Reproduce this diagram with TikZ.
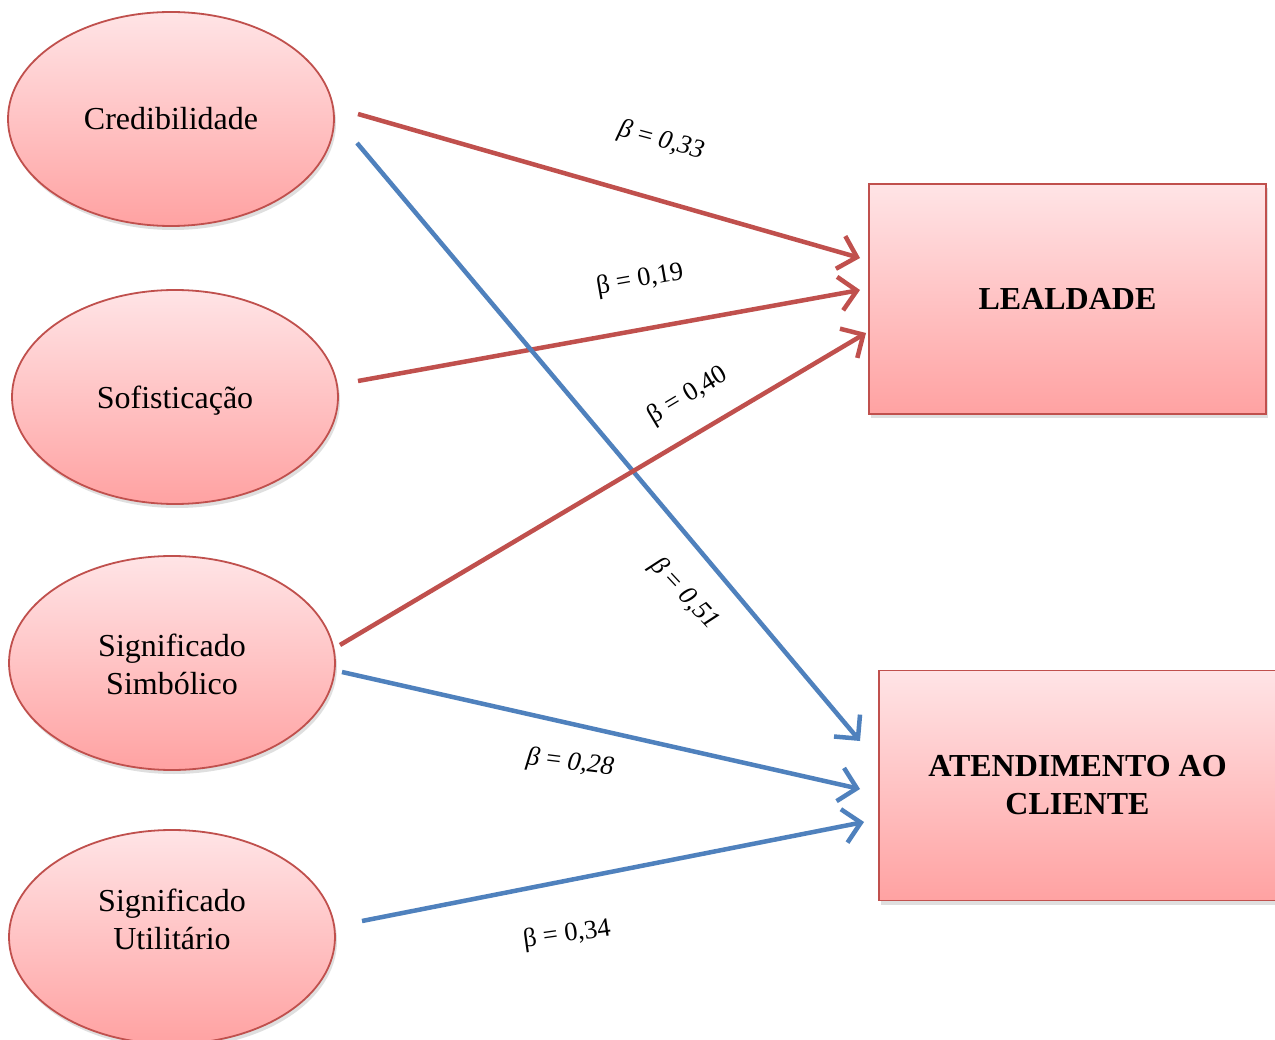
\documentclass[tikz,border=0pt]{standalone}
\usepackage{fontspec}
\setmainfont{Liberation Serif}
\usetikzlibrary{arrows.meta,shapes.geometric,shadows,calc}
\definecolor{edge}{RGB}{192,80,77}
\definecolor{redarrow}{RGB}{192,80,77}
\definecolor{bluearrow}{RGB}{79,129,189}
\definecolor{topfill}{RGB}{255,228,230}
\definecolor{botfill}{RGB}{255,162,162}
\tikzset{
  latent/.style={ellipse, draw=edge, line width=1.8pt, top color=topfill, bottom color=botfill,
    minimum width=326pt, minimum height=214pt, inner sep=0pt,
    drop shadow={opacity=0.25, shadow xshift=2pt, shadow yshift=-4pt},
    font=\fontsize{32}{38}\selectfont, align=center},
  outcome/.style={rectangle, draw=edge, line width=1.8pt, top color=topfill, bottom color=botfill,
    minimum width=397pt, minimum height=230pt, inner sep=0pt,
    drop shadow={opacity=0.25, shadow xshift=2pt, shadow yshift=-4pt},
    font=\bfseries\fontsize{32}{38}\selectfont, align=center},
  redpath/.style={draw=redarrow, line width=4.5pt, -{Straight Barb[length=17pt,width=34pt,line width=4.5pt]}},
  bluepath/.style={draw=bluearrow, line width=4.5pt, -{Straight Barb[length=17pt,width=34pt,line width=4.5pt]}},
  coef/.style={font=\fontsize{26.5}{30}\selectfont, inner sep=1pt},
}
\begin{document}
\begin{tikzpicture}[x=1pt,y=-1pt]
\useasboundingbox (0,0) rectangle (1275,1040);
\clip (0,0) rectangle (1275,1040);
\fill[white] (0,0) rectangle (1275,1040);
% latent nodes
\node[latent] (cred) at (171,119) {};
\node[latent] (sofi) at (175,397) {};
\node[latent] (simb) at (172,663) {};
\node[latent] (util) at (172,937) {};
\node[font=\fontsize{32}{38}\selectfont, anchor=base] (credtext) at (171,130) {Credibilidade};
\node[font=\fontsize{32}{38}\selectfont, anchor=base] (sofitext) at (175,409) {Sofisticação};
\node[font=\fontsize{32}{38}\selectfont, align=center] (simbtext) at (172,664) {Significado\\Simbólico};
\node[font=\fontsize{32}{38}\selectfont, align=center] (utiltext) at (172,919) {Significado\\Utilitário};
% outcomes
\node[outcome] (leal) at (1067.5,299) {LEALDADE};
\node[outcome] (aten) at (1077.5,785.5) {ATENDIMENTO AO\\CLIENTE};
% endpoints
\coordinate (s1) at (358,114);
\coordinate (e1) at (860,258);
\coordinate (s2) at (358,381);
\coordinate (e2) at (860,290);
\coordinate (s3) at (340,645);
\coordinate (e3) at (866,333);
\coordinate (s4) at (357,143);
\coordinate (e4) at (860,741);
\coordinate (s5) at (342,672);
\coordinate (e5) at (860,789);
\coordinate (s6) at (362,921);
\coordinate (e6) at (864,822);
% paths
\draw[redpath] (s1) -- (e1);
\draw[redpath] (s2) -- (e2);
\draw[bluepath] (s4) -- (e4);
\draw[redpath] (s3) -- (e3);
\draw[bluepath] (s5) -- (e5);
\draw[bluepath] (s6) -- (e6);
% coefficients
\node[coef, rotate=-15] (k1) at (661,141) {\textit{β} = \textit{0,33}};
\node[coef, rotate=10] (k2) at (640,280) {β = 0,19};
\node[coef, rotate=31] (k3) at (688,396) {β = 0,40};
\node[coef, rotate=-47] (k4) at (684,594) {\textit{β} = \textit{0,51}};
\node[coef, rotate=-7] (k5) at (570,763) {\textit{β} = \textit{0,28}};
\node[coef, rotate=8] (k6) at (567,935) {β = 0,34};
\end{tikzpicture}
\end{document}
